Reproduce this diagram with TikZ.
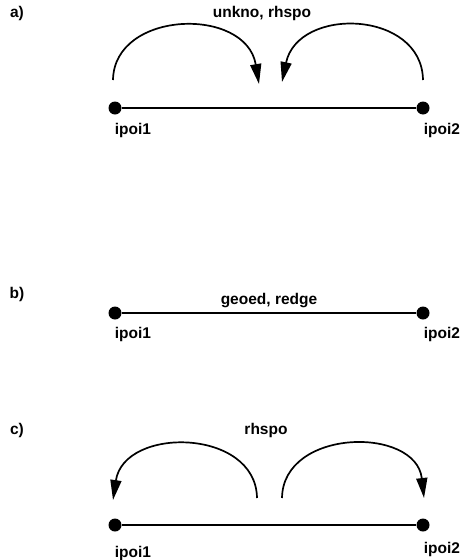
\documentclass[tikz,border=0pt]{standalone}
\usepackage{fontspec}
\setmainfont{Liberation Sans}
\usetikzlibrary{arrows.meta}
\begin{document}
\begin{tikzpicture}[x=1pt,y=-1pt,
  dot/.style={circle,fill=black,inner sep=0pt,minimum size=13pt},
  lbl/.style={font=\bfseries\fontsize{15.5}{18}\selectfont,inner sep=0pt},
  edge/.style={line width=2pt},
  arc/.style={line width=1.7pt,-{Triangle[length=20pt,width=11pt]}}]
\useasboundingbox (0,0) rectangle (464,560);
% a)
\node[lbl] (la) at (17,13) {a)};
\node[lbl] (ta) at (262,13) {unkno, rhspo};
\node[dot] (a1) at (115,108) {};
\node[dot] (a2) at (423,108) {};
\draw[edge] (a1) -- (a2);
\node[lbl] (a1l) at (133,130) {ipoi1};
\node[lbl] (a2l) at (442,130) {ipoi2};
\coordinate (a1s) at (113,80);
\coordinate (a1e) at (259,84);
\coordinate (a2s) at (423,80);
\coordinate (a2e) at (282,82);
\draw[arc] (a1s) .. controls (114,10) and (246,6) .. (a1e);
\draw[arc] (a2s) .. controls (422,10) and (298,6) .. (a2e);
% b)
\node[lbl] (lb) at (17,294) {b)};
\node[dot] (b1) at (115,313) {};
\node[dot] (b2) at (423,313) {};
\draw[edge] (b1) -- node[lbl,above=4pt] (tb) {geoed, redge} (b2);
\node[lbl] (b1l) at (133,334) {ipoi1};
\node[lbl] (b2l) at (442,334) {ipoi2};
% c)
\node[lbl] (lc) at (17,430) {c)};
\node[lbl] (tc) at (266,430) {rhspo};
\node[dot] (c1) at (115,525) {};
\node[dot] (c2) at (423,525) {};
\draw[edge] (c1) -- (c2);
\node[lbl] (c1l) at (133,553) {ipoi1};
\node[lbl] (c2l) at (442,549) {ipoi2};
\coordinate (c1s) at (257,498);
\coordinate (c1e) at (113,500);
\coordinate (c2s) at (282,498);
\coordinate (c2e) at (424,498);
\draw[arc] (c1s) .. controls (256,428) and (124,426) .. (c1e);
\draw[arc] (c2s) .. controls (283,428) and (416,426) .. (c2e);
\end{tikzpicture}
\end{document}
